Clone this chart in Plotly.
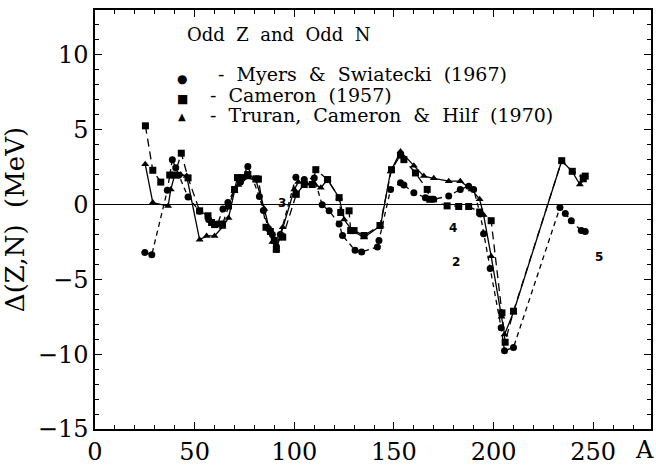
import plotly.graph_objects as go

# ---- data (A, Delta(Z,N) in MeV) ----
myers_A = [25, 28.5, 36.3, 38.8, 40.5, 42, 46.7, 52.5, 57, 61.5, 64.2, 66.7, 70, 73, 76.7,
           82.5, 84.5, 87, 89, 91, 93, 100.8, 105, 110, 114, 117.5, 122.5, 124.2, 130.5,
           133.8, 141.7, 142.5, 148.3, 153.3, 155, 160, 165.8, 170, 177.5, 183.3, 187.5,
           190, 193.3, 195, 198.3, 203.8, 205.5, 210, 233.3, 236, 239, 244, 246]
myers_D = [-3.2, -3.35, 0.95, 3.0, 2.45, 1.95, 0.5, -0.45, -1.0, -1.3, -0.3, 0.13, 1.0, 1.5, 2.55,
           0.53, -0.4, -1.6, -2.0, -2.8, -2.0, 1.83, 1.67, 1.78, -0.02, -0.42, -1.3, -2.07, -3.06,
           -3.17, -2.84, -2.4, 1.01, 1.45, 1.3, 0.79, 0.46, 0.35, 0.57, 1.01, 1.23,
           1.0, -0.64, -1.96, -4.27, -8.23, -9.77, -9.55, -0.2, -0.6, -1.08, -1.74, -1.8]

cameron_A = [25.3, 29, 33, None, 37.5, 40, 43.3, 46.7, 52.5, 56.7, 58.5, 60, 64, 67, 70, 71.5,
             73.5, 76.7, 80.8, 82, 85.8, 88, 90, 91, 94.2, 101, 105, 109, 110.8, 116.7, 122.5,
             123.3, 127.5, 128.3, 130, 135, 143, 148.8, 153.3, 155, 160.8, 166.7, 168,
             176.7, 182.5, 187.5, 193, 198.8, 204.2, 205.8, 210, 234.2, 239.5, 245, 246]
cameron_D = [5.26, 2.29, 1.5, None, 1.97, 1.97, 3.43, 1.78, -0.42, -0.75, -1.2, -1.34, -1.3, -0.1, 1.0, 1.8,
             1.8, 2.0, 1.72, 1.7, -1.52, -1.8, -2.4, -3.0, -2.18, 0.68, 1.34, 1.34, 2.33, 1.67, 0.46,
             -0.53, -0.42, -1.74, -1.74, -2.07, -1.4, 2.33, 3.3, 3.0, 2.11, 1.01, 0.35,
             -0.09, -0.13, -0.13, -0.5, -1.08, -7.24, -9.2, -7.13, 2.93, 2.22, 1.78, 1.9]

truran_A = [25.2, 29, 36.7, 38, 40, 43, 46, 52.5, 56, 60, 64, 67, 70, 72, 76.7, 80.8, 85, 89,
            91, 94.2, 100, 102, 106, 110, 113.3, 116.7, 122.5, 125, 129, 135, 143.3, 148.3,
            153.3, 160, 165, 170, 177.5, 183.3, 189, 193, 195, 198.8, 204, 205.5, 210,
            234.2, 239.5, 243.3, 245]
truran_D = [2.7, 0.13, -0.1, 1.0, 1.97, 2.0, 1.9, -2.36, -2.1, -2.1, -1.5, -0.9, 0.9, 1.3, 1.8, 1.6, -0.3, -2.5,
            -3.0, -1.52, 1.0, 1.5, 1.4, 1.4, 1.12, 1.67, 0.46, -1.0, -1.74, -2.2, -1.41, 2.2,
            3.55, 2.6, 1.9, 1.75, 1.56, 1.56, 1.01, 0.35, -0.7, -3.46, -7.5, -8.68, -7.2,
            2.93, 2.2, 1.34, 1.6]

legend_title = "Odd\u00a0\u00a0Z\u00a0\u00a0and\u00a0\u00a0Odd\u00a0\u00a0N"
legend_labels = ["-\u00a0\u00a0Myers\u00a0\u00a0&\u00a0\u00a0Swiatecki\u00a0\u00a0(1967)",
                 "-\u00a0\u00a0Cameron\u00a0\u00a0(1957)",
                 "-\u00a0\u00a0Truran,\u00a0\u00a0Cameron\u00a0\u00a0&\u00a0\u00a0Hilf\u00a0\u00a0(1970)"]
legend_symbols = ["●", "■", "▲"]
curve_labels = ["3", "4", "2", "5"]
curve_label_A = [94, 179.5, 181, 252.8]
curve_label_D = [0.1, -1.6, -3.85, -3.5]

x_ticks = [0, 50, 100, 150, 200, 250]
y_ticks = [-15, -10, -5, 0, 5, 10]

fig = go.Figure()

fig.add_trace(go.Scatter(
    x=myers_A, y=myers_D, mode="lines+markers",
    line=dict(color="black", width=1.3, dash="5px,4px"),
    marker=dict(symbol="circle", size=7, color="black"),
    showlegend=False, connectgaps=False))
fig.add_trace(go.Scatter(
    x=cameron_A, y=cameron_D, mode="lines+markers",
    line=dict(color="black", width=1.3, dash="8px,5px"),
    marker=dict(symbol="square", size=7, color="black"),
    showlegend=False, connectgaps=False))
fig.add_trace(go.Scatter(
    x=truran_A, y=truran_D, mode="lines+markers",
    line=dict(color="black", width=1.3),
    marker=dict(symbol="triangle-up", size=7, color="black"),
    showlegend=False))

serif = "DejaVu Serif"

annotations = []
annotations.append(dict(x=45, y=11.36, xref="x", yref="y", text=legend_title, showarrow=False,
                        xanchor="left", yanchor="middle",
                        font=dict(family=serif, size=18, color="black")))
row_y = [8.72, 7.29, 5.96]
sym_y = [8.39, 7.07, 5.85]
text_x = [60.5, 56.7, 56.7]
sym_size = [12, 12, 10]
for lab, sym, ty, sy, tx, ss in zip(legend_labels, legend_symbols, row_y, sym_y, text_x, sym_size):
    annotations.append(dict(x=tx, y=ty, xref="x", yref="y", text=lab, showarrow=False,
                            xanchor="left", yanchor="middle",
                            font=dict(family=serif, size=19, color="black")))
    annotations.append(dict(x=43.8, y=sy, xref="x", yref="y", text=sym, showarrow=False,
                            xanchor="center", yanchor="middle",
                            font=dict(family="DejaVu Sans", size=ss, color="black")))
for t, a, d in zip(curve_labels, curve_label_A, curve_label_D):
    annotations.append(dict(x=a, y=d, xref="x", yref="y", text="<b>%s</b>" % t, showarrow=False,
                            xanchor="center", yanchor="middle",
                            font=dict(family="DejaVu Sans", size=12, color="black")))
annotations.append(dict(x=0.989, y=-0.05, xref="paper", yref="paper", text="A", showarrow=False,
                        xanchor="center", yanchor="middle",
                        font=dict(family=serif, size=24, color="black")))

fig.update_layout(
    width=656, height=469,
    margin=dict(l=95, r=3, t=10, b=35),
    paper_bgcolor="white", plot_bgcolor="white",
    font=dict(family=serif, color="black"),
    annotations=annotations,
    xaxis=dict(range=[0, 279], tickvals=x_ticks, ticktext=[str(v) for v in x_ticks],
               ticks="inside", ticklen=7, tickwidth=1.2, tickcolor="black",
               minor=dict(dtick=10, ticks="inside", ticklen=4, tickcolor="black", tickwidth=1),
               showline=True, linecolor="black", linewidth=1.5, mirror="ticks",
               showgrid=False, zeroline=False,
               tickfont=dict(family=serif, size=24, color="black")),
    yaxis=dict(range=[-15, 13], tickvals=y_ticks, ticktext=[("\u2212%d" % -v) if v < 0 else str(v) for v in y_ticks],
               ticks="inside", ticklen=7, tickwidth=1.2, tickcolor="black",
               minor=dict(dtick=1, ticks="inside", ticklen=4, tickcolor="black", tickwidth=1),
               showline=True, linecolor="black", linewidth=1.5, mirror="ticks",
               showgrid=False, zeroline=True, zerolinecolor="black", zerolinewidth=1.2,
               tickfont=dict(family=serif, size=24, color="black"),
               title=dict(text="\u0394(Z,N)  (MeV)", font=dict(family=serif, size=26, color="black"),
                          standoff=6)),
)

fig.write_html("out.html")
